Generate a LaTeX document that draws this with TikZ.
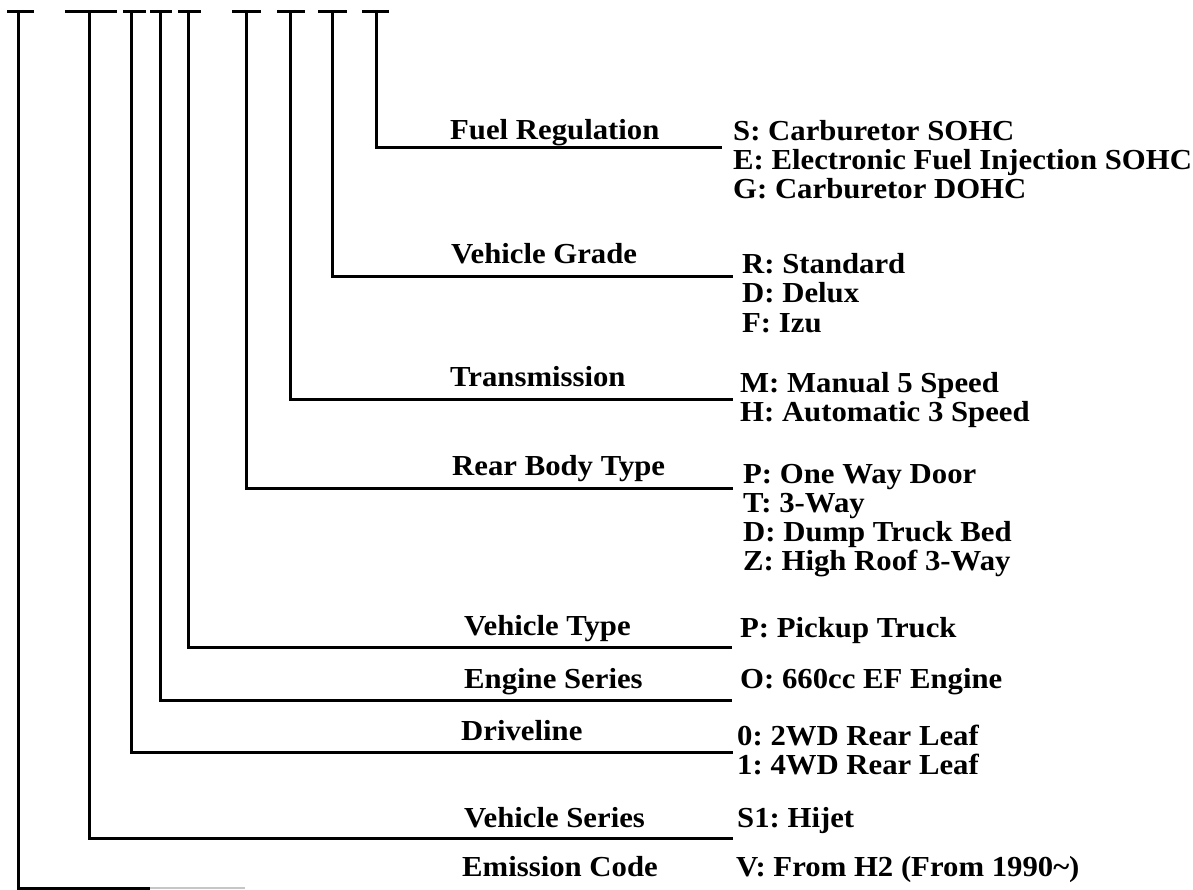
\documentclass[tikz,border=0pt]{standalone}
\usepackage{fontspec}
\setmainfont[FakeStretch=1.06]{Liberation Serif}
\usetikzlibrary{positioning}
\frenchspacing

\begin{document}
\begin{tikzpicture}[
    x=1pt, y=-1pt,
    codeline/.style={line width=3pt, line join=miter},
    fadeline/.style={line width=1.6pt, color=gray!45},
    field/.style={font=\fontsize{29}{34}\selectfont\bfseries, anchor=base west, inner sep=0pt},
    option/.style={font=\fontsize{29}{34}\selectfont\bfseries, anchor=base west, inner sep=0pt},
    optnext/.style={below=29pt of #1, option},
]
    \useasboundingbox (0,0) rectangle (1193,890);

    % Tops of the code positions
    \coordinate (emistop) at (18,12);
    \coordinate (seriestop) at (89,12);
    \coordinate (drivetop) at (131,12);
    \coordinate (enginetop) at (160,12);
    \coordinate (typetop) at (188,12);
    \coordinate (reartop) at (246,12);
    \coordinate (transtop) at (290,12);
    \coordinate (gradetop) at (332,12);
    \coordinate (fueltop) at (376,12);

    % Ends of the leaders
    \coordinate (fuelend) at (722,148);
    \coordinate (gradeend) at (733,277);
    \coordinate (transend) at (733,399);
    \coordinate (rearend) at (733,488);
    \coordinate (typeend) at (732,647);
    \coordinate (engineend) at (732,700);
    \coordinate (driveend) at (733,752);
    \coordinate (seriesend) at (733,838);
    \coordinate (emisend) at (150,888);
    \coordinate (emisfade) at (245,888);

    % T bars
    \draw[codeline] ([xshift=-11pt]emistop) -- ([xshift=16pt]emistop);
    \draw[codeline] ([xshift=-24pt]seriestop) -- ([xshift=28pt]seriestop);
    \draw[codeline] ([xshift=-8pt]drivetop) -- ([xshift=15pt]drivetop);
    \draw[codeline] ([xshift=-10pt]enginetop) -- ([xshift=12pt]enginetop);
    \draw[codeline] ([xshift=-10pt]typetop) -- ([xshift=13pt]typetop);
    \draw[codeline] ([xshift=-14pt]reartop) -- ([xshift=15pt]reartop);
    \draw[codeline] ([xshift=-13pt]transtop) -- ([xshift=15pt]transtop);
    \draw[codeline] ([xshift=-14pt]gradetop) -- ([xshift=15pt]gradetop);
    \draw[codeline] ([xshift=-14pt]fueltop) -- ([xshift=13pt]fueltop);

    % Leaders
    \draw[codeline] (fueltop) |- (fuelend);
    \draw[codeline] (gradetop) |- (gradeend);
    \draw[codeline] (transtop) |- (transend);
    \draw[codeline] (reartop) |- (rearend);
    \draw[codeline] (typetop) |- (typeend);
    \draw[codeline] (enginetop) |- (engineend);
    \draw[codeline] (drivetop) |- (driveend);
    \draw[codeline] (seriestop) |- (seriesend);
    \draw[codeline] (emistop) |- (emisend);
    \draw[fadeline] (emisend) -- (emisfade);

    % Field names
    \node[field] (fuel) at (450,140) {Fuel Regulation};
    \node[field] (grade) at (451,264) {Vehicle Grade};
    \node[field] (trans) at (450,386) {Transmission};
    \node[field] (rear) at (452,475) {Rear Body Type};
    \node[field] (type) at (464,635) {Vehicle Type};
    \node[field] (engine) at (464,688) {Engine Series};
    \node[field] (drive) at (461,740) {Driveline};
    \node[field] (series) at (464,827) {Vehicle Series};
    \node[field] (emis) at (462,876) {Emission Code};

    % Codes
    \node[option] (fuelS) at (733,141) {S: Carburetor SOHC};
    \node[optnext=fuelS.base west] (fuelE) {E: Electronic Fuel Injection SOHC};
    \node[optnext=fuelE.base west] (fuelG) {G: Carburetor DOHC};

    \node[option] (gradeR) at (742,274) {R: Standard};
    \node[optnext=gradeR.base west] (gradeD) {D: Delux};
    \node[optnext=gradeD.base west] (gradeF) {F: Izu};

    \node[option] (transM) at (740,392) {M: Manual 5 Speed};
    \node[optnext=transM.base west] (transH) {H: Automatic 3 Speed};

    \node[option] (rearP) at (743,483) {P: One Way Door};
    \node[optnext=rearP.base west] (rearT) {T: 3-Way};
    \node[optnext=rearT.base west] (rearD) {D: Dump Truck Bed};
    \node[optnext=rearD.base west] (rearZ) {Z: High Roof 3-Way};

    \node[option] (typeP) at (740,637) {P: Pickup Truck};
    \node[option] (engineO) at (740,688) {O: 660cc EF Engine};

    \node[option] (drive0) at (737,745) {0: 2WD Rear Leaf};
    \node[optnext=drive0.base west] (drive1) {1: 4WD Rear Leaf};

    \node[option] (seriesS) at (737,827) {S1: Hijet};
    \node[option] (emisV) at (736,876) {V: From H2 (From 1990\textasciitilde)};
\end{tikzpicture}
\end{document}
